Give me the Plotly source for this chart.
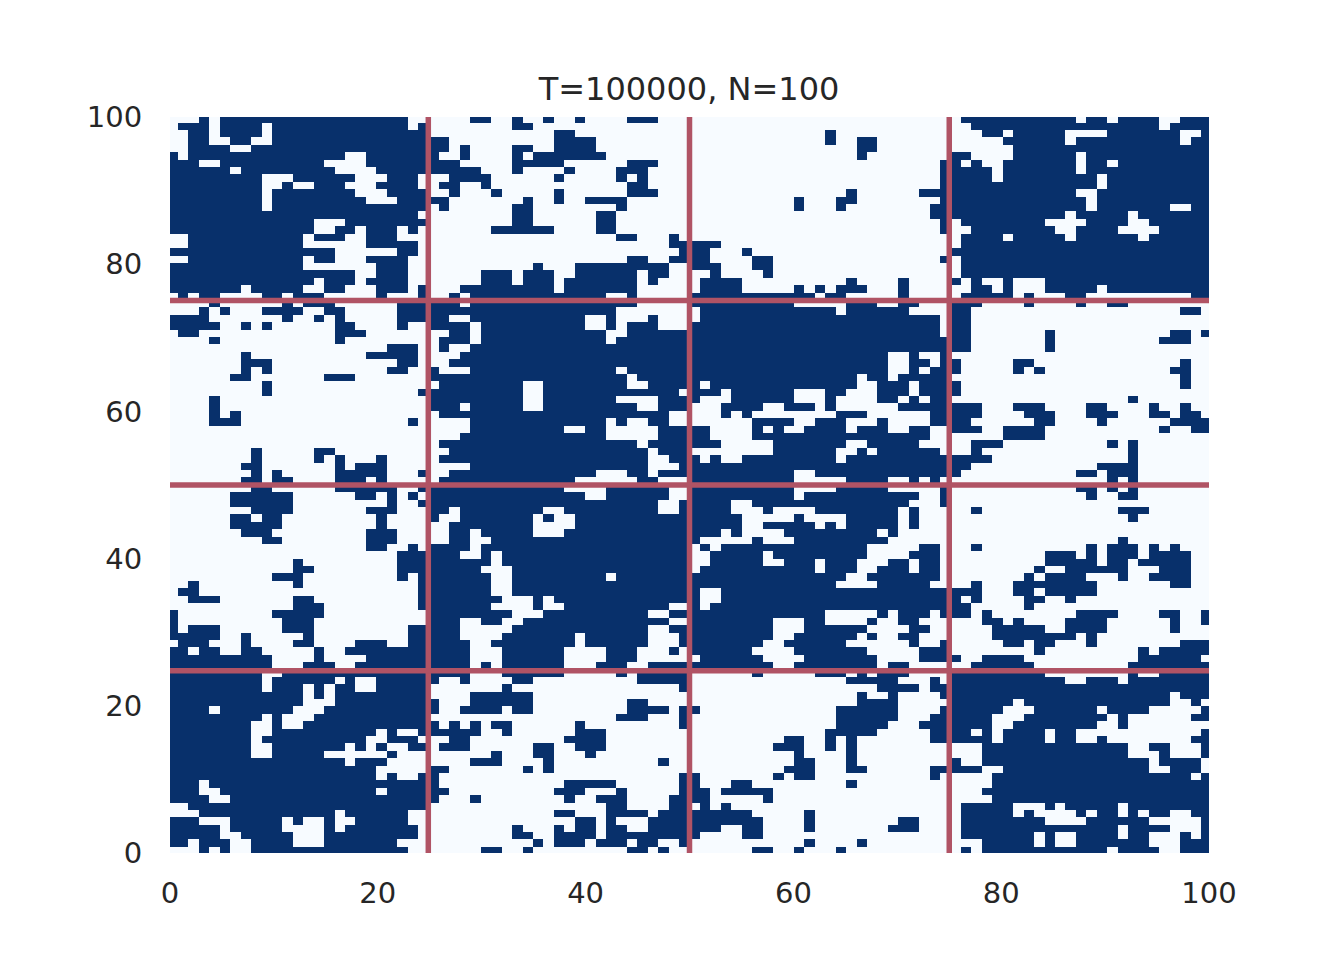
import numpy as np
import plotly.graph_objects as go

# Dark cell runs per heatmap row, listed from the top row of the picture downwards ("start-end", end exclusive)
dark_runs_top = [
 "3-4 5-23 29-31 33-34 36-37 39-40 44-47 76-87 88-90 91-95 97-100",
 "1-4 5-9 10-23 24-25 33-35 77-95 96-100",
 "2-4 5-9 10-25 37-39 63-64 78-80 81-86 90-97 99-100",
 "2-4 6-8 10-25 25-27 37-41 63-64 66-68 80-86 87-97 98-100",
 "2-6 8-25 25-27 28-29 33-35 37-41 66-68 81-100",
 "0-1 2-17 19-25 25-26 28-29 33-34 35-42 66-67 75-77 81-87 88-100",
 "0-3 5-15 19-25 25-28 33-38 44-47 74-75 75-76 77-78 80-87 88-90 91-100",
 "0-6 7-16 20-25 25-30 33-34 38-39 43-46 74-75 75-79 80-87 88-100",
 "0-9 12-18 21-24 27-31 37-38 43-44 45-46 74-75 75-79 80-89 90-100",
 "0-9 11-12 14-17 20-24 26-28 30-31 44-46 74-75 75-89 90-100",
 "0-9 10-18 21-25 27-28 31-32 37-38 44-47 65-66 72-75 75-87 89-100",
 "0-9 10-19 22-25 25-27 34-35 37-38 40-44 60-61 64-66 74-75 75-88 89-100",
 "0-9 10-25 26-27 33-35 43-44 60-61 64-65 73-75 75-88 89-96 98-100",
 "0-24 33-35 41-43 73-75 75-86 87-92 93-100",
 "0-14 17-25 33-35 41-43 74-75 76-84 88-92 94-100",
 "0-14 16-18 19-22 23-24 31-37 41-43 74-75 77-85 87-91 95-100",
 "2-13 14-17 19-22 43-45 48-49 76-80 81-86 87-93 94-100",
 "2-13 19-24 48-50 50-53 76-100",
 "0-16 22-24 49-50 50-52 55-56 75-100",
 "2-13 14-16 19-23 44-46 48-50 50-52 56-58 74-75 76-100",
 "0-13 20-23 35-36 39-48 50-53 56-58 76-100",
 "0-18 20-23 30-33 34-37 39-45 46-48 52-53 57-58 76-100",
 "0-14 15-18 19-23 30-33 34-37 38-45 46-47 51-55 65-66 70-71 75-76 77-78 80-81 84-100",
 "0-7 8-13 15-17 20-23 24-25 28-37 38-45 51-55 60-61 62-63 64-67 70-71 77-79 80-81 84-89 90-100",
 "1-2 3-5 9-11 12-15 20-21 24-25 27-28 29-42 44-45 50-62 63-65 70-71 76-81 82-83 86-88 98-100",
 "4-5 11-12 13-16 22-25 25-28 29-45 50-60 65-68 70-72 75-78 82-83 87-88 90-92",
 "3-4 5-6 9-13 15-17 22-25 25-43 51-64 65-71 75-77 97-99",
 "0-4 11-12 14-15 16-17 22-25 25-27 29-40 42-43 46-47 51-74 75-77",
 "0-5 7-8 9-10 16-18 22-23 25-29 30-40 42-43 44-47 50-74 75-77",
 "1-3 16-19 27-29 30-42 44-50 50-74 75-77 84-85 96-98 99-100",
 "4-5 16-17 26-29 30-42 43-50 50-75 75-77 84-85 95-98",
 "21-24 26-27 29-50 50-75 75-77 84-85",
 "7-8 19-24 28-50 50-69 71-72 74-75",
 "7-10 22-24 27-50 50-69 71-73 74-75 75-76 81-83 97-98",
 "7-8 9-10 21-23 25-26 29-43 44-50 50-69 71-72 73-75 75-76 81-82 83-84 96-98",
 "6-8 15-18 25-44 45-50 50-66 67-69 70-75 97-98",
 "9-10 26-34 36-44 46-50 50-51 52-66 68-71 72-75 75-76 97-98",
 "9-10 24-25 25-34 36-49 50-53 54-60 63-65 68-71 72-75 75-76",
 "4-5 25-34 36-43 47-50 50-51 54-60 63-64 68-70 71-72 73-75 92-93",
 "4-5 25-28 29-34 36-45 47-50 53-57 59-62 63-64 70-75 75-78 81-84 88-90 94-95 97-98",
 "4-5 6-7 26-48 53-54 55-56 64-67 73-75 75-78 82-85 88-91 94-96 97-99",
 "4-7 23-24 29-42 43-44 46-48 56-60 62-65 68-69 73-75 75-77 83-85 89-90 96-100",
 "29-38 40-42 47-50 50-52 56-57 58-59 61-65 66-69 71-73 75-78 80-84 95-96 98-100",
 "28-42 47-50 50-52 56-73 80-84",
 "26-45 46-50 50-53 58-65 67-72 77-80 90-91 92-93",
 "8-9 14-16 27-46 47-50 58-64 66-67 68-74 77-78 92-93",
 "8-9 14-15 16-17 20-21 26-46 48-50 50-51 52-53 55-64 65-75 75-79 92-93",
 "7-9 16-17 18-21 29-46 49-50 50-75 75-77 89-93",
 "8-9 10-11 16-21 24-25 27-41 44-46 47-50 50-60 62-75 75-76 87-89 90-93",
 "7-9 10-12 16-19 20-21 26-39 45-47 50-60 65-69 71-72 73-74 90-91 92-93",
]
dark_runs_bottom = [
 "8-10 16-22 24-25 25-38 42-48 50-60 64-69 74-75 87-89 90-91 92-93",
 "6-12 18-20 21-22 23-24 25-40 42-48 50-60 61-72 74-75 88-89 91-93",
 "6-12 21-22 24-25 25-47 49-50 50-54 56-71 74-75",
 "8-12 19-22 25-27 28-36 38-47 49-50 50-54 57-58 62-70 71-72 77-78 91-94",
 "6-8 9-11 20-21 25-26 28-35 36-37 39-50 50-55 60-61 65-70 71-72 92-93",
 "6-11 20-21 27-35 39-50 50-55 57-62 63-64 65-70 71-72",
 "7-10 19-22 27-29 30-35 38-50 50-53 54-55 59-68 69-70",
 "9-11 19-22 27-29 31-50 50-51 56-57 60-69 91-92",
 "19-21 23-24 25-29 30-50 51-52 53-67 72-74 77-78 88-89 90-93 94-95 96-97",
 "22-25 25-28 30-31 32-50 52-57 58-67 71-74 84-87 88-89 90-93 94-98",
 "12-13 22-25 25-31 32-50 52-57 59-62 63-66 69-71 72-74 84-89 90-92 93-98",
 "12-14 22-25 25-30 33-50 51-62 63-66 68-71 72-74 83-84 86-92 95-98",
 "10-13 22-23 24-25 25-31 33-42 43-50 50-65 67-74 82-83 84-88 91-92 94-98",
 "2-3 12-13 24-25 25-31 33-50 50-64 68-73 77-78 81-89 96-98",
 "1-3 24-25 25-31 33-50 50-51 53-75 75-78 81-83 84-89",
 "2-5 12-14 24-25 25-32 35-36 37-50 50-51 53-75 75-76 77-78 82-84 86-87",
 "12-15 24-25 25-31 35-36 38-48 50-51 52-75 75-77 82-83",
 "0-1 10-15 25-33 36-46 48-50 50-63 68-69 70-73 74-75 75-77 78-79 87-91 95-97 99-100",
 "0-1 11-14 25-28 30-32 34-48 50-58 61-63 67-68 70-72 78-80 81-82 86-90 96-97 99-100",
 "0-1 2-5 11-14 23-25 25-28 33-46 48-50 50-58 61-67 71-73 79-84 86-90 96-97",
 "0-5 7-8 13-14 23-25 25-28 32-39 40-46 49-50 50-58 60-66 67-68 70-72 79-87 88-89",
 "1-4 7-8 12-14 18-21 23-25 25-29 31-39 40-46 49-50 50-57 59-65 71-72 74-75 80-82 83-85 88-89 97-100",
 "0-2 3-5 7-9 14-15 17-25 25-29 32-38 42-45 48-49 50-56 60-67 72-75 83-84 93-94 95-100",
 "0-10 14-15 19-25 25-29 32-38 42-45 51-57 61-68 72-75 75-76 78-82 93-99",
 "0-10 13-16 18-25 25-29 30-31 32-38 41-44 46-50 50-58 60-68 69-71 77-83 92-100",
 "0-9 11-25 25-29 32-38 43-44 45-50 56-57 62-65 66-67 68-71 75-84 92-93 95-100",
 "0-9 10-16 17-18 20-25 25-26 28-29 33-35 45-50 65-70 73-74 75-86 88-91 92-100",
 "0-9 10-13 14-15 16-18 20-25 32-33 49-50 68-72 73-75 75-100",
 "0-13 14-15 16-25 29-35 66-67 69-70 74-75 75-96 97-100",
 "0-13 16-25 25-26 29-35 44-46 66-70 75-81 82-96 98-99",
 "0-4 5-12 15-25 25-26 28-32 33-35 44-48 49-50 50-51 64-70 74-75 75-80 83-89 90-94 99-100",
 "0-9 10-11 14-25 43-46 49-50 64-70 73-75 75-79 82-90 91-92 98-100",
 "0-8 10-11 13-25 25-26 27-28 29-30 31-33 39-40 49-50 64-69 72-75 75-79 81-89 91-92",
 "0-8 10-13 13-20 21-22 24-25 25-30 32-33 39-42 63-68 73-75 75-77 78-79 80-84 85-87 99-100",
 "0-8 9-13 13-19 21-24 27-29 38-42 59-61 63-64 65-66 73-75 75-79 80-84 85-87 89-90 98-100",
 "0-8 10-17 18-19 20-21 23-25 26-29 35-37 39-42 58-61 63-64 65-66 78-92 94-96 99-100",
 "0-8 10-15 21-22 31-32 35-37 40-41 60-61 65-66 78-92 95-96 99-100",
 "0-17 18-21 29-32 36-37 47-48 60-62 65-66 75-76 78-94 95-99",
 "0-20 25-27 34-35 36-37 59-62 65-67 73-75 75-78 80-94 96-99",
 "0-20 21-22 24-25 25-26 49-50 50-51 58-59 60-62 73-74 79-98 99-100",
 "0-3 4-25 25-26 38-43 49-50 50-51 54-56 65-66 79-100",
 "0-3 5-20 21-25 25-27 37-40 43-44 49-50 50-52 53-58 78-100",
 "0-4 6-25 25-26 29-30 38-39 41-44 48-50 50-52 57-58 79-100",
 "2-25 42-44 48-50 51-52 53-54 76-81 84-85 86-91 92-100",
 "3-16 17-23 37-39 42-46 47-50 50-56 61-62 76-81 82-83 87-88 89-91 92-93 94-96 98-100",
 "0-3 6-11 12-13 15-16 18-23 39-41 42-43 46-50 50-57 61-62 70-72 76-84 88-94 99-100",
 "0-5 6-11 15-16 17-24 33-34 37-38 39-41 42-44 46-50 50-53 55-57 61-62 69-72 76-91 92-96 99-100",
 "0-5 7-12 15-24 33-35 37-41 42-50 50-51 55-57 76-83 84-85 87-91 92-94 97-98 99-100",
 "0-2 3-6 8-12 15-22 35-36 37-40 41-44 45-47 49-50 61-62 66-67 78-83 84-85 87-94 97-100",
 "3-4 5-6 8-23 30-32 34-35 44-46 47-48 56-58 60-61 64-65 76-77 78-90 91-95 97-100",
]
x_ticks = [0, 20, 40, 60, 80, 100]
y_ticks = [0, 20, 40, 60, 80, 100]
v_lines = [24.86, 50, 75]
h_lines = [24.77, 50, 75.07]
title_text = "T=100000, N=100"

rows = dark_runs_top + dark_runs_bottom
z = np.zeros((100, 100), dtype=int)
for r, text in enumerate(rows):
    for run in text.split():
        a, b = map(int, run.split("-"))
        z[99 - r, a:b] = 1

# The cells in the source run slightly past the axes on every side
edges = np.linspace(-0.235, 100.235, 101)

fig = go.Figure(go.Heatmap(
    z=z, x=edges, y=edges, zmin=0, zmax=1, showscale=False, hoverinfo="skip",
    colorscale=[[0, "#f7fbff"], [1, "#08306b"]],
))
line_style = dict(color="#b05365", width=5.5)
for v in v_lines:
    fig.add_vline(x=v, line=line_style)
for v in h_lines:
    fig.add_hline(y=v, line=line_style)

font = dict(family="DejaVu Sans", size=29, color="#262626")
fig.update_xaxes(range=[0, 100], tickvals=x_ticks, showgrid=False, zeroline=False,
                 ticks="outside", ticklen=14, tickcolor="rgba(0,0,0,0)", showline=False,
                 tickfont=font, automargin=False)
fig.update_yaxes(range=[0, 100], tickvals=y_ticks, showgrid=False, zeroline=False,
                 ticks="outside", ticklen=21, tickcolor="rgba(0,0,0,0)", showline=False,
                 tickfont=font, automargin=False)
fig.update_layout(
    width=1328, height=944, paper_bgcolor="white", plot_bgcolor="white",
    margin=dict(l=162, r=127, t=109, b=99, pad=0),
    title=dict(text=title_text, x=(162 + 519) / 1328, xanchor="center",
               y=1 - 81 / 944, yanchor="middle",
               font=dict(family="DejaVu Sans", size=32, color="#262626")),
)
fig.write_html("out.html")
